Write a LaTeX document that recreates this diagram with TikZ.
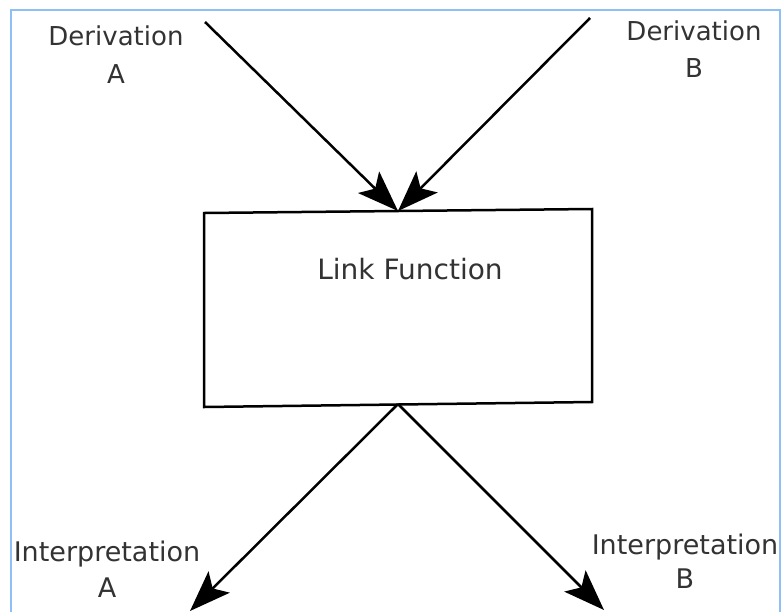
\documentclass[tikz,border=0pt]{standalone}
\usepackage{fontspec}
\setmainfont{DejaVu Sans}
\usetikzlibrary{arrows.meta}
\definecolor{frameblue}{HTML}{8FC0F5}
\definecolor{ink}{HTML}{333333}
\begin{document}
\begin{tikzpicture}[x=1pt,y=-1pt,
  lbl/.style={align=center, inner sep=0pt, anchor=north, text=ink},
  conn/.style={line width=2.5pt, -{Stealth[length=41pt,width=30pt,inset=9pt]}},
  boxline/.style={line width=2.5pt, line join=miter}]
% canvas and frame
\useasboundingbox (0,0) rectangle (784,611);
\fill[white] (0,0) rectangle (784,611);
\draw[frameblue, line width=2.5pt] (11,630) -- (11,10) -- (780,10) -- (780,630);

% the link function box (slightly skewed quadrilateral)
\coordinate (tl) at (204,213);
\coordinate (tr) at (592,209);
\coordinate (br) at (592,402);
\coordinate (bl) at (204,407);
\draw[boxline] (tl) -- (tr) -- (br) -- (bl) -- cycle;
\node[lbl, font=\fontsize{28}{34}\selectfont] (link) at (410,258) {Link Function};
\coordinate (intop) at (398,211);
\coordinate (outbot) at (398,404);

% labels
\node[lbl, font=\fontsize{26}{38}\selectfont] (derA) at (116,26) {Derivation\\A};
\node[lbl, font=\fontsize{26}{37}\selectfont] (derB) at (694,21) {Derivation\\B};
\node[lbl, font=\fontsize{27}{36}\selectfont] (intA) at (107,541) {Interpretation\\A};
\node[lbl, font=\fontsize{27}{34}\selectfont] (intB) at (685,534) {Interpretation\\B};

% connector ends
\coordinate (srcA) at (205,22);
\coordinate (srcB) at (590,18);
\coordinate (dstA) at (190,611);
\coordinate (dstB) at (604,610);

\draw[conn] (srcA) -- (intop);
\draw[conn] (srcB) -- (intop);
\draw[conn] (outbot) -- (dstA);
\draw[conn] (outbot) -- (dstB);
\end{tikzpicture}
\end{document}
